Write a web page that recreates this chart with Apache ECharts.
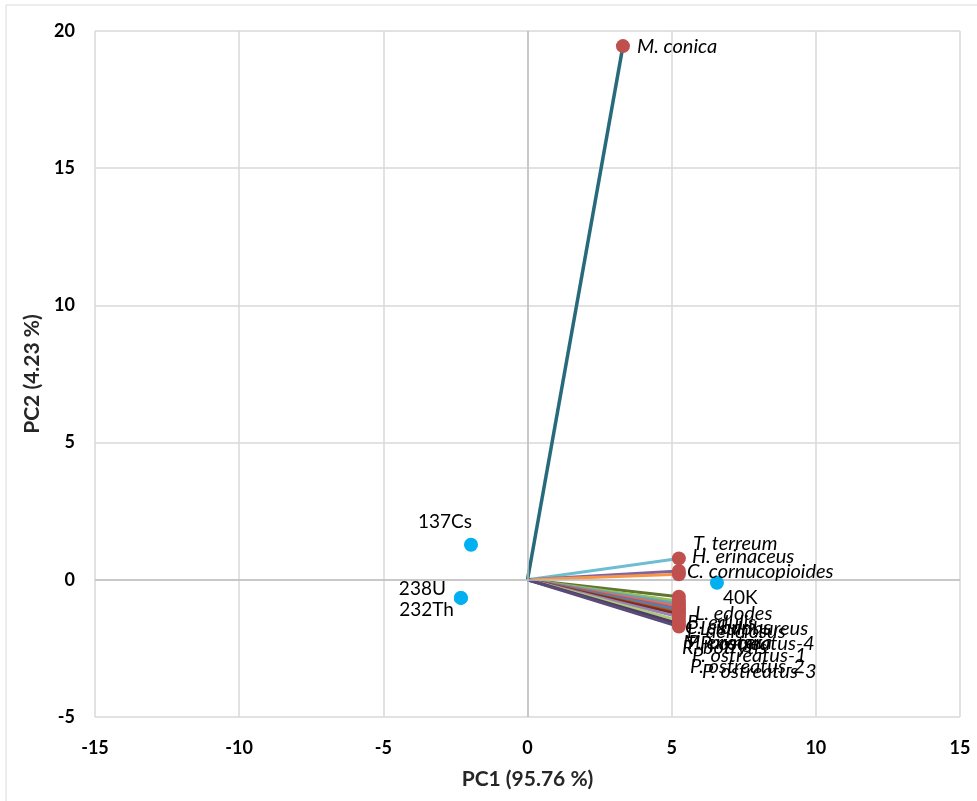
<!DOCTYPE html>
<html>
<head>
<meta charset="utf-8">
<script src="https://cdn.jsdelivr.net/npm/echarts@6/dist/echarts.min.js"></script>
<style>
html,body{margin:0;padding:0;background:#fff;}
#chart{width:977px;height:801px;}
</style>
</head>
<body>
<div id="chart"></div>
<script>
// ---- Data ----
const speciesNames = ['M. conica','T. terreum','H. erinaceus','C. cornucopioides',
  'L. edodes','B. edulis','L. sulphureus','C. cibarius','L. deliciosus','P. ostreatus-4',
  'M. procera','P. eryngii','R. botrytis','P. ostreatus-1','P. ostreatus-2','P. ostreatus-3'];
const speciesPC1 = [3.31, 5.25, 5.25, 5.25, 5.25, 5.25, 5.25, 5.25, 5.25, 5.25, 5.25, 5.25, 5.25, 5.25, 5.25, 5.25];
const speciesPC2 = [19.45, 0.78, 0.32, 0.20, -0.62, -0.78, -0.88, -0.95, -1.05, -1.10, -1.20, -1.25, -1.35, -1.48, -1.60, -1.70];

const variableNames = ['137Cs','238U','232Th','40K'];
const variablePC1 = [-1.96, -2.31, -2.31, 6.57];
const variablePC2 = [1.28, -0.66, -0.66, -0.11];

const xAxisRange = {min: -15, max: 15, step: 5};
const yAxisRange = {min: -5, max: 20, step: 5};

// ---- Styles ----
const lineColors = ['#276A7C','#6FBDD1','#8064A2','#F79646',
  '#5F7530','#9BBB59','#4BACC6','#CD7371','#C0504D','#4F81BD',
  '#B65708','#772C2A','#9983B5','#AFC97A','#4D3B62','#5A4A78'];
const speciesLabelOffsets = [[2,0],[2,-15],[1,-14],[-4,-3],
  [4,17],[-4,21],[9,25],[-6,22],[-4,23],[9,34],
  [-8,30],[-3,28],[-9,31],[1,35],[-1,43],[11,45]];
const variableLabelStyle = [
  {position:'left', offset:[13,-23]},
  {position:'left', offset:[-3,-9]},
  {position:'left', offset:[5,12]},
  {position:'right', offset:[-6,15]}
];

const FONT = 'Lato, "Open Sans", sans-serif';

const series = [];
speciesNames.forEach((n, i) => {
  series.push({
    type: 'line',
    name: n,
    data: [[0, 0], [speciesPC1[i], speciesPC2[i]]],
    showSymbol: false,
    symbol: 'none',
    lineStyle: {color: lineColors[i], width: i === 0 ? 3.5 : 3},
    z: i === 0 ? 3 : 2,
    silent: true,
    animation: false
  });
});

series.push({
  type: 'line',
  data: [],
  silent: true,
  markLine: {
    silent: true,
    symbol: 'none',
    label: {show: false},
    lineStyle: {color: '#BFBFBF', width: 1.5, type: 'solid'},
    data: [{xAxis: 0}, {yAxis: 0}]
  },
  z: 1,
  animation: false
});

series.push({
  type: 'scatter',
  symbolSize: 14,
  itemStyle: {color: '#C0504D', opacity: 1},
  z: 5,
  data: speciesNames.map((n, i) => ({
    value: [speciesPC1[i], speciesPC2[i]],
    name: n,
    label: {
      show: true,
      formatter: n,
      position: 'right',
      distance: 5,
      offset: speciesLabelOffsets[i],
      fontStyle: 'italic',
      fontSize: 20,
      fontFamily: FONT,
      color: '#000'
    }
  })),
  animation: false
});

series.push({
  type: 'scatter',
  symbolSize: 14,
  itemStyle: {color: '#00B0F0', opacity: 1},
  z: 5,
  data: variableNames.map((n, i) => ({
    value: [variablePC1[i], variablePC2[i]],
    name: n,
    label: {
      show: true,
      formatter: n,
      position: variableLabelStyle[i].position,
      distance: 5,
      offset: variableLabelStyle[i].offset,
      fontSize: 19,
      fontFamily: FONT,
      color: '#000'
    }
  })),
  animation: false
});

const chart = echarts.init(document.getElementById('chart'));
chart.setOption({
  backgroundColor: '#fff',
  animation: false,
  graphic: [{
    type: 'rect',
    shape: {x: 6, y: 5, width: 1000, height: 1000},
    style: {fill: 'none', stroke: '#D9D9D9', lineWidth: 1},
    silent: true,
    z: -1
  }],
  grid: {left: 95, right: 17, top: 31, bottom: 84, containLabel: false},
  xAxis: {
    type: 'value',
    min: xAxisRange.min, max: xAxisRange.max, interval: xAxisRange.step,
    name: 'PC1 (95.76 %)',
    nameLocation: 'middle',
    nameGap: 52,
    nameTextStyle: {fontSize: 21, fontWeight: 'bold', fontFamily: FONT, color: '#262626'},
    axisLine: {show: false},
    axisTick: {show: false},
    axisLabel: {fontSize: 18, fontWeight: 'bold', fontFamily: FONT, color: '#000', margin: 22},
    splitLine: {show: true, lineStyle: {color: '#D9D9D9', width: 1.5}}
  },
  yAxis: {
    type: 'value',
    min: yAxisRange.min, max: yAxisRange.max, interval: yAxisRange.step,
    name: 'PC2 (4.23 %)',
    nameLocation: 'middle',
    nameGap: 50,
    nameRotate: 90,
    nameTextStyle: {fontSize: 21, fontWeight: 'bold', fontFamily: FONT, color: '#262626'},
    axisLine: {show: false},
    axisTick: {show: false},
    axisLabel: {fontSize: 18, fontWeight: 'bold', fontFamily: FONT, color: '#000', margin: 20},
    splitLine: {show: true, lineStyle: {color: '#D9D9D9', width: 1.5}}
  },
  series: series
});
</script>
</body>
</html>
